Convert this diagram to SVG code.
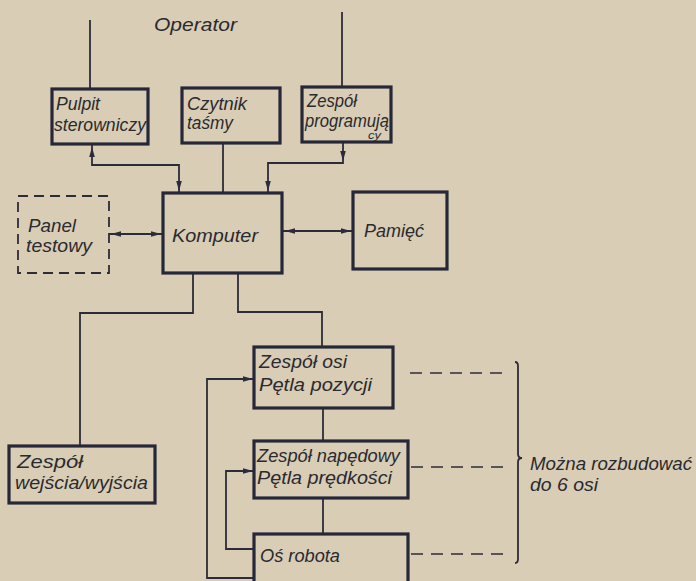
<svg xmlns="http://www.w3.org/2000/svg" xmlns:xlink="http://www.w3.org/1999/xlink" width="696" height="581" viewBox="0 0 696 581">
  <style>
    .bg { fill: #d9cdb5; }
    .box { fill: none; stroke: #26283a; stroke-width: 3.2; }
    .dbox { fill: none; stroke: #2b2c3a; stroke-width: 1.8; stroke-dasharray: 10 6; }
    .wire { fill: none; stroke: #2b2c3a; stroke-width: 1.8; }
    .dash { fill: none; stroke: #2b2c3a; stroke-width: 1.7; stroke-dasharray: 12 8; }
    .t { font-family: "Liberation Sans", Arial, sans-serif; font-style: italic; font-size: 19px; fill: #2a2a30; }
    .s { font-family: "Liberation Sans", Arial, sans-serif; font-style: italic; font-size: 10px; fill: #2a2a30; }
    .ah { fill: #2b2c3a; }
  </style>
  <defs>
    <!-- small slim arrowhead pointing along +x, tip at the origin -->
    <path id="ah" class="ah" d="M0,0 L-10,-2.8 L-10,2.8 Z"/>
  </defs>

  <rect class="bg" x="0" y="0" width="696" height="581"/>

  <g id="connectors">
    <!-- operator lines -->
    <line class="wire" x1="90" y1="20" x2="90" y2="89"/>
    <line class="wire" x1="342" y1="12" x2="342" y2="87"/>
    <!-- desk / tape reader / programming unit to computer -->
    <polyline class="wire" points="92,144 92,165 179,165 179,193"/>
    <line class="wire" x1="223" y1="143" x2="223" y2="193"/>
    <polyline class="wire" points="343,142 343,163 268,163 268,193"/>
    <!-- test panel and memory -->
    <line class="wire" x1="109" y1="234" x2="163" y2="234"/>
    <line class="wire" x1="282" y1="231" x2="353" y2="231"/>
    <!-- computer down to I/O and axis units -->
    <polyline class="wire" points="193,273 193,313 80,313 80,446"/>
    <polyline class="wire" points="238,273 238,312 322,312 322,347"/>
    <line class="wire" x1="323" y1="408" x2="323" y2="441"/>
    <line class="wire" x1="323" y1="498" x2="323" y2="534"/>
    <!-- feedback loops -->
    <polyline class="wire" points="254,578 207,578 207,379 254,379"/>
    <polyline class="wire" points="254,549 226,549 226,471 254,471"/>
    <!-- axis repetition marks -->
    <line class="dash" x1="410" y1="373" x2="507" y2="373"/>
    <line class="dash" x1="411" y1="467" x2="507" y2="467"/>
    <line class="dash" x1="411" y1="554" x2="507" y2="554"/>
    <path class="wire" d="M515,362 Q518,362 518,366 L518,454 Q518,458 522,458 Q518,458 518,462 L518,559 Q518,563 515,563"/>

    <!-- arrowheads -->
    <use xlink:href="#ah" transform="translate(92,147) rotate(-90)"/>
    <use xlink:href="#ah" transform="translate(179,191) rotate(90)"/>
    <use xlink:href="#ah" transform="translate(343,161) rotate(90)"/>
    <use xlink:href="#ah" transform="translate(268,191) rotate(90)"/>
    <use xlink:href="#ah" transform="translate(111,234) rotate(180)"/>
    <use xlink:href="#ah" transform="translate(161,234)"/>
    <use xlink:href="#ah" transform="translate(285,231) rotate(180)"/>
    <use xlink:href="#ah" transform="translate(351,231)"/>
    <use xlink:href="#ah" transform="translate(253,379)"/>
    <use xlink:href="#ah" transform="translate(253,471)"/>
  </g>

  <g id="operator">
    <text class="t" x="154" y="31" textLength="83" lengthAdjust="spacingAndGlyphs">Operator</text>
  </g>

  <g id="pulpit">
    <rect class="box" x="52" y="89" width="96" height="55"/>
    <text class="t" x="56" y="110" textLength="44" lengthAdjust="spacingAndGlyphs">Pulpit</text>
    <text class="t" x="54" y="131" textLength="92" lengthAdjust="spacingAndGlyphs">sterowniczy</text>
  </g>

  <g id="czytnik">
    <rect class="box" x="182" y="88" width="98" height="55"/>
    <text class="t" x="187" y="110" textLength="60" lengthAdjust="spacingAndGlyphs">Czytnik</text>
    <text class="t" x="187" y="129" textLength="46" lengthAdjust="spacingAndGlyphs">taśmy</text>
  </g>

  <g id="zespol-programujacy">
    <rect class="box" x="302" y="87" width="89" height="55"/>
    <text class="t" x="307" y="107" textLength="50" lengthAdjust="spacingAndGlyphs">Zespół</text>
    <text class="t" x="305" y="127" textLength="84" lengthAdjust="spacingAndGlyphs">programują</text>
    <text class="s" x="368" y="139" textLength="13" lengthAdjust="spacingAndGlyphs">cy</text>
  </g>

  <g id="panel-testowy">
    <rect class="dbox" x="18" y="196" width="91" height="77"/>
    <text class="t" x="28" y="232" textLength="48" lengthAdjust="spacingAndGlyphs">Panel</text>
    <text class="t" x="26" y="252" textLength="66" lengthAdjust="spacingAndGlyphs">testowy</text>
  </g>

  <g id="komputer">
    <rect class="box" x="163" y="193" width="119" height="80"/>
    <text class="t" x="172" y="242" textLength="86" lengthAdjust="spacingAndGlyphs">Komputer</text>
  </g>

  <g id="pamiec">
    <rect class="box" x="353" y="192" width="94" height="77"/>
    <text class="t" x="364" y="237" textLength="60" lengthAdjust="spacingAndGlyphs">Pamięć</text>
  </g>

  <g id="zespol-we-wy">
    <rect class="box" x="9" y="446" width="146" height="57"/>
    <text class="t" x="17" y="468" textLength="66" lengthAdjust="spacingAndGlyphs">Zespół</text>
    <text class="t" x="15" y="489" textLength="133" lengthAdjust="spacingAndGlyphs">wejścia/wyjścia</text>
  </g>

  <g id="zespol-osi">
    <rect class="box" x="254" y="347" width="139" height="61"/>
    <text class="t" x="259" y="368" textLength="88" lengthAdjust="spacingAndGlyphs">Zespół osi</text>
    <text class="t" x="259" y="391" textLength="113" lengthAdjust="spacingAndGlyphs">Pętla pozycji</text>
  </g>

  <g id="zespol-napedowy">
    <rect class="box" x="254" y="441" width="154" height="57"/>
    <text class="t" x="257" y="462" textLength="143" lengthAdjust="spacingAndGlyphs">Zespół napędowy</text>
    <text class="t" x="257" y="484" textLength="135" lengthAdjust="spacingAndGlyphs">Pętla prędkości</text>
  </g>

  <g id="os-robota">
    <rect class="box" x="254" y="534" width="154" height="60"/>
    <text class="t" x="260" y="562" textLength="80" lengthAdjust="spacingAndGlyphs">Oś robota</text>
  </g>

  <g id="uwaga">
    <text class="t" x="530" y="470" textLength="162" lengthAdjust="spacingAndGlyphs">Można rozbudować</text>
    <text class="t" x="530" y="491" textLength="68" lengthAdjust="spacingAndGlyphs">do 6 osi</text>
  </g>
</svg>
